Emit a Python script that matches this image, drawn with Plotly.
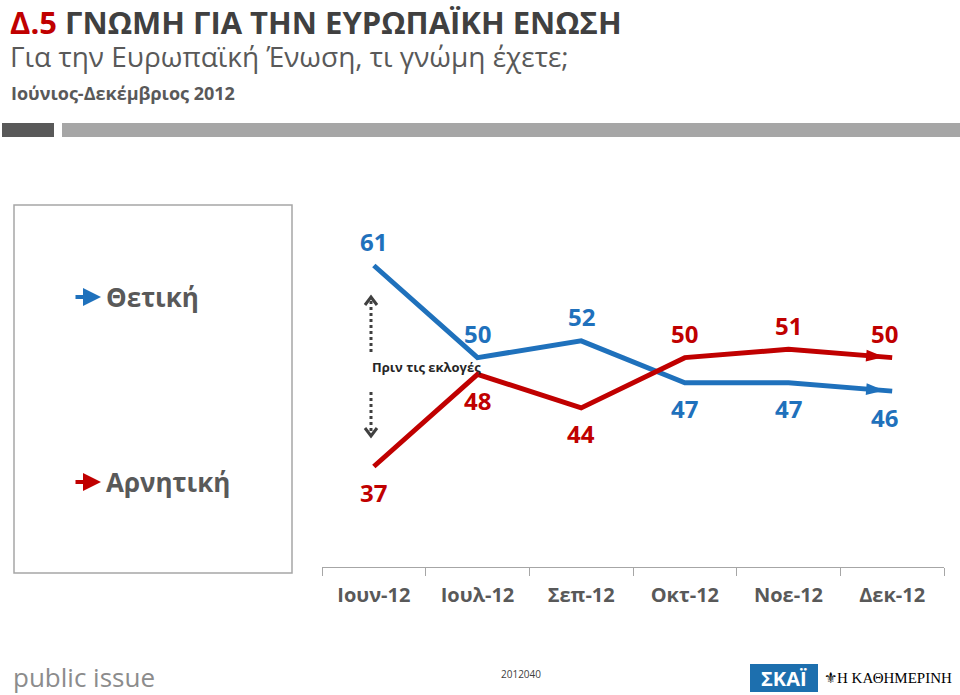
import plotly.graph_objects as go

# ---- data ----
months = ["Ιουν-12", "Ιουλ-12", "Σεπ-12", "Οκτ-12", "Νοε-12", "Δεκ-12"]
positive = [61, 50, 52, 47, 47, 46]   # Θετική
negative = [37, 48, 44, 50, 51, 50]   # Αρνητική
series_names = ["Θετική", "Αρνητική"]

BLUE = "#1F71BC"
RED = "#C00000"
GRAY_TXT = "#595959"
FONT = "Open Sans"

W, H = 960, 695
PL, PT, PW, PH = 322, 232, 622, 335


def px(x):
    return (x - PL) / PW


def py(y):
    return (PT + PH - y) / PH


fig = go.Figure()

series = [(series_names[0], positive, BLUE), (series_names[1], negative, RED)]
n = len(months)
for name, vals, col in series:
    fig.add_trace(go.Scatter(
        x=months, y=vals, mode="lines", name=name,
        line=dict(color=col, width=5),
        hoverinfo="skip", showlegend=False,
    ))
    # arrow head at the last point
    fig.add_trace(go.Scatter(
        x=months[-2:], y=vals[-2:], mode="markers",
        marker=dict(symbol="arrow", size=[0, 19], angleref="previous",
                    standoff=[0, 8], color=col, opacity=1, line=dict(width=0)),
        hoverinfo="skip", showlegend=False,
    ))

annotations = []
# data labels: above when series is higher than the other one
for i, (name, vals, col) in enumerate(series):
    other = series[1 - i][1]
    for j, v in enumerate(vals):
        above = v > other[j]
        annotations.append(dict(
            x=months[j], y=v, xref="x", yref="y", text=str(v), showarrow=False,
            font=dict(family=FONT, size=24, color=col, weight="bold"),
            yshift=24 if above else -26,
            xshift=-8 if j == n - 1 else 0,
        ))

# titles (title + question in one block)
title_text = (
    "<span style='font-size:31px;color:#404040;font-weight:bold'>"
    "<span style='color:#C00000'>Δ.5</span> ΓΝΩΜΗ ΓΙΑ ΤΗΝ ΕΥΡΩΠΑΪΚΗ ΕΝΩΣΗ</span><br>"
    "<span style='font-size:28px;color:#595959;font-weight:normal'>"
    "Για την Ευρωπαϊκή Ένωση, τι γνώμη έχετε;</span>"
)
annotations += [
    dict(x=px(8), y=py(38), xref="paper", yref="paper", xanchor="left", yanchor="middle",
         text=title_text, align="left", showarrow=False,
         font=dict(family=FONT, size=25, color="#404040")),
    dict(x=px(9), y=py(93), xref="paper", yref="paper", xanchor="left", yanchor="middle",
         text="Ιούνιος-Δεκέμβριος 2012",
         showarrow=False, font=dict(family=FONT, size=18, color=GRAY_TXT, weight="bold")),
]

# legend box entries
for (name, vals, col), yy in zip(series, [297, 482]):
    annotations.append(dict(x=px(101), y=py(yy), xref="paper", yref="paper",
                            ax=-27, ay=0, text="", showarrow=True, arrowhead=2,
                            arrowsize=0.9, arrowwidth=4, arrowcolor=col))
    annotations.append(dict(x=px(104), y=py(yy), xref="paper", yref="paper",
                            xanchor="left", yanchor="middle", text=name, showarrow=False,
                            font=dict(family=FONT, size=26, color=GRAY_TXT, weight="bold")))

# "before the elections" note
annotations.append(dict(x=px(370), y=py(367), xref="paper", yref="paper",
                        text="Πριν τις εκλογές", showarrow=False,
                        font=dict(family=FONT, size=13, color="#262626", weight="bold")))

# footer
annotations += [
    dict(x=px(11), y=py(677), xref="paper", yref="paper", xanchor="left", yanchor="middle",
         text="public issue", showarrow=False,
         font=dict(family=FONT, size=26, color="#8C8C8C")),
    dict(x=px(499), y=py(683), xref="paper", yref="paper",
         text="2012040", showarrow=False,
         font=dict(family=FONT, size=10, color="#404040")),
    dict(x=px(784), y=py(678), xref="paper", yref="paper", xanchor="center", yanchor="middle",
         text="ΣΚΑΪ", showarrow=False,
         font=dict(family=FONT, size=20, color="white", weight="bold")),
    dict(x=px(822), y=py(678), xref="paper", yref="paper", xanchor="left", yanchor="middle",
         text="⚜Η ΚΑΘΗΜΕΡΙΝΗ", showarrow=False,
         font=dict(family="Liberation Serif", size=15, color="black")),
]

shapes = [
    # header bars
    dict(type="rect", xref="paper", yref="paper", x0=px(2), x1=px(54), y0=py(137), y1=py(123),
         fillcolor="#595959", line=dict(width=0)),
    dict(type="rect", xref="paper", yref="paper", x0=px(62), x1=px(960), y0=py(137), y1=py(123),
         fillcolor="#A6A6A6", line=dict(width=0)),
    # legend box
    dict(type="rect", xref="paper", yref="paper", x0=px(14), x1=px(292), y0=py(573), y1=py(205),
         fillcolor="rgba(0,0,0,0)", line=dict(color="#A6A6A6", width=1.5)),
    # dotted arrows
    dict(type="line", xref="paper", yref="paper", x0=px(371), x1=px(371), y0=py(352), y1=py(300),
         line=dict(color="#404040", width=3, dash="dot")),
    dict(type="line", xref="paper", yref="paper", x0=px(371), x1=px(371), y0=py(392), y1=py(433),
         line=dict(color="#404040", width=3, dash="dot")),
    dict(type="path", xref="paper", yref="paper",
         path=f"M {px(365)} {py(305)} L {px(371)} {py(297)} L {px(377)} {py(305)}",
         line=dict(color="#404040", width=3)),
    dict(type="path", xref="paper", yref="paper",
         path=f"M {px(365)} {py(428)} L {px(371)} {py(436)} L {px(377)} {py(428)}",
         line=dict(color="#404040", width=3)),
    # SKAI logo box
    dict(type="rect", xref="paper", yref="paper", x0=px(750), x1=px(818), y0=py(692), y1=py(664),
         fillcolor="#1D6FAE", line=dict(width=0), layer="below"),
]

fig.update_layout(
    width=W, height=H,
    margin=dict(l=PL, r=W - PL - PW, t=PT, b=H - PT - PH),
    paper_bgcolor="white", plot_bgcolor="white",
    xaxis=dict(type="category", range=[-0.5, n - 0.5], tickson="boundaries",
               ticks="outside", ticklen=8, tickcolor="#A6A6A6", tickwidth=1,
               showline=True, linecolor="#A6A6A6", linewidth=1, showgrid=False,
               zeroline=False, ticklabelstandoff=10,
               tickfont=dict(family=FONT, size=20, color=GRAY_TXT, weight="bold")),
    yaxis=dict(visible=False, range=[25, 65], showgrid=False),
    annotations=annotations, shapes=shapes, showlegend=False,
)

fig.write_html("out.html", config={"displayModeBar": False},
               post_script="document.body.style.margin='0px';"
                           "document.body.style.overflow='hidden';")
